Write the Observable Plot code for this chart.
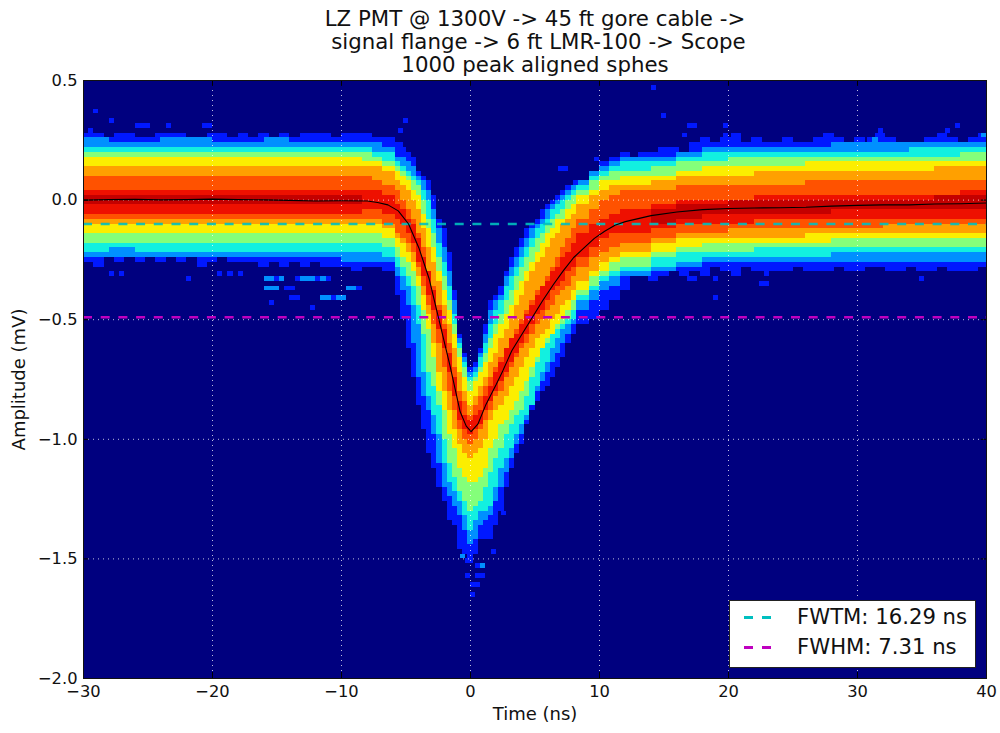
<!DOCTYPE html>
<html><head><meta charset="utf-8">
<script src="https://cdn.jsdelivr.net/npm/d3@7"></script>
<script src="https://cdn.jsdelivr.net/npm/@observablehq/plot@0.6"></script>
<style>
body{margin:0;background:#fff;font-family:"DejaVu Sans",sans-serif;position:relative;width:1000px;height:733px;overflow:hidden}
#legend{position:absolute;left:729px;top:600px;width:245px;height:66px;background:#fff;border:1px solid #222;font-size:21.2px;color:#111}
#legend .row{position:absolute;left:67px;white-space:pre}
#legend i{position:absolute;width:9px;height:3px}
</style></head><body>
<div id="chart"></div>
<div id="legend"></div>
<script>
const titleText = "LZ PMT @ 1300V -> 45 ft gore cable ->\n signal flange -> 6 ft LMR-100 -> Scope\n1000 peak aligned sphes";
const xLabel = "Time (ns)", yLabel = "Amplitude (mV)";
const xTicks = [-30,-20,-10,0,10,20,30,40];
const yTicks = [-2,-1.5,-1,-0.5,0,0.5];
const fwtmLevel = -0.10, fwhmLevel = -0.49;
const legendLabels = ["FWTM: 16.29 ns","FWHM: 7.31 ns"];

// edges of the sampled time columns (ns)
const columnEdges = [-30,-28,-26,-24,-22,-20,-18,-16,-14,-12,-10,
 -8.4,-7.6,-6.8,
 -5.8,-5.4,-5,-4.6,-4.2,-3.8,-3.4,-3,-2.6,-2.2,-1.8,-1.4,-1,-.6,-.2,.2,.6,1,1.4,1.8,2.2,2.6,3,3.4,3.8,4.2,4.6,5,5.4,5.8,6.2,6.6,7,7.4,7.8,
 8.2,9.2,10,10.8,11.6,
 12.4,14,16,18,20,22,24,26,28,30,32,34,36,38,40];

// upper edges of each density band (mV), per column
const topBlue=[.25,.245,.245,.25,.25,.245,.245,.25,.245,.245,.245,
 .265,.26,.25,
 .22,.21,.19,.17,.12,.1,.08,.02,-.08,-.12,-.22,-.38,-.56,-.65,-.71,-.69,-.63,-.53,-.42,-.4,-.36,-.3,-.25,-.21,-.17,-.13,-.1,-.08,-.05,-.03,0,.025,.04,.05,.065,
 .08,.11,.15,.175,.19,
 .17,.185,.205,.215,.22,.225,.225,.225,.23,.23,.23,.23,.235,.235];
const topAzure=[.25,.245,.245,.25,.25,.245,.245,.25,.245,.245,.245,
 .24,.23,.215,
 .185,.17,.15,.13,.1,.07,.03,-.04,-.13,-.2,-.3,-.42,-.58,-.67,-.725,-.7,-.65,-.56,-.47,-.43,-.4,-.33,-.29,-.24,-.2,-.16,-.13,-.1,-.07,-.05,-.02,0,.02,.035,.05,
 .08,.11,.14,.16,.17,
 .17,.185,.205,.215,.22,.225,.225,.225,.23,.23,.23,.23,.235,.235];
const topCyan=[.22,.22,.225,.22,.22,.225,.22,.22,.22,.22,.215,
 .215,.205,.19,
 .16,.145,.125,.105,.08,.04,0,-.09,-.18,-.27,-.36,-.48,-.6,-.69,-.74,-.72,-.67,-.6,-.53,-.47,-.43,-.37,-.33,-.28,-.24,-.2,-.17,-.13,-.1,-.07,-.05,-.02,0,.015,.03,
 .065,.095,.125,.14,.15,
 .15,.165,.18,.19,.195,.2,.2,.2,.205,.205,.205,.21,.21,.21];
const topGreen=[.195,.195,.2,.195,.195,.2,.195,.195,.195,.195,.19,
 .19,.18,.16,
 .135,.12,.1,.08,.05,-.01,-.07,-.15,-.24,-.33,-.42,-.52,-.63,-.71,-.756,-.74,-.7,-.65,-.58,-.52,-.48,-.43,-.38,-.33,-.29,-.25,-.21,-.17,-.14,-.11,-.08,-.06,-.04,-.01,.01,
 .04,.07,.1,.115,.125,
 .125,.14,.155,.165,.17,.175,.175,.18,.18,.18,.185,.185,.185,.19];
const topYellow=[.175,.175,.17,.17,.175,.175,.17,.17,.17,.17,.17,
 .165,.155,.135,
 .11,.09,.07,.045,.01,-.06,-.13,-.21,-.295,-.38,-.47,-.56,-.66,-.74,-.8,-.77,-.73,-.68,-.62,-.57,-.53,-.49,-.44,-.39,-.35,-.31,-.27,-.23,-.19,-.15,-.12,-.09,-.07,-.04,-.02,
 .01,.04,.07,.08,.09,
 .09,.105,.12,.13,.14,.145,.145,.15,.15,.15,.155,.155,.16,.16];
const topOrange=[.145,.145,.145,.145,.145,.145,.145,.145,.145,.145,.145,
 .14,.13,.11,
 .08,.06,.03,0,-.04,-.12,-.2,-.27,-.34,-.44,-.53,-.63,-.72,-.8,-.854,-.83,-.79,-.74,-.69,-.64,-.59,-.54,-.5,-.45,-.4,-.35,-.31,-.27,-.24,-.2,-.17,-.14,-.11,-.08,-.06,
 -.03,.01,.04,.05,.06,
 .06,.075,.09,.1,.105,.11,.115,.115,.12,.12,.12,.125,.13,.13];
const topRedOrange=[.09,.09,.09,.09,.09,.09,.09,.09,.09,.09,.09,
 .09,.085,.06,
 .03,0,-.04,-.09,-.14,-.21,-.295,-.37,-.45,-.52,-.6,-.7,-.8,-.85,-.895,-.87,-.83,-.79,-.75,-.7,-.66,-.62,-.58,-.54,-.5,-.46,-.42,-.39,-.36,-.32,-.28,-.24,-.2,-.17,-.13,
 -.09,-.04,0,.02,.03,
 .03,.04,.05,.055,.06,.065,.065,.07,.07,.07,.07,.075,.08,.08];
const topRed=[.045,.045,.045,.045,.045,.045,.045,.045,.045,.045,.04,
 .035,.03,.01,
 -.02,-.04,-.07,-.11,-.17,-.24,-.31,-.39,-.46,-.55,-.65,-.75,-.85,-.9,-.93,-.91,-.875,-.82,-.78,-.73,-.68,-.63,-.59,-.56,-.52,-.48,-.44,-.4,-.37,-.34,-.31,-.28,-.25,-.22,-.19,
 -.15,-.11,-.08,-.06,-.05,
 -.05,-.03,-.01,0,.005,.01,.015,.015,.02,.02,.02,.02,.025,.03];
const topDark=[.025,.025,.025,.025,.025,.025,.025,.025,.025,.025,.02,
 ...Array(43).fill(null),
 null,-.045,-.025,-.015,-.01,-.01,-.005,-.005,0,0,.005,.005,.01,.01];

// lower edges of each density band (mV), per column
const botDark=[-.03,-.03,-.03,-.03,-.03,-.03,-.03,-.03,-.03,-.03,-.03,
 ...Array(43).fill(null),
 null,-.095,-.075,-.065,-.06,-.06,-.055,-.055,-.05,-.05,-.045,-.045,-.04,-.04];
const botRed=[-.055,-.055,-.055,-.055,-.055,-.055,-.055,-.055,-.055,-.055,-.055,
 -.045,-.05,-.06,
 -.09,-.11,-.14,-.19,-.26,-.32,-.4,-.47,-.54,-.63,-.73,-.83,-.92,-.96,-.99,-.97,-.94,-.88,-.84,-.8,-.77,-.72,-.68,-.64,-.6,-.57,-.53,-.49,-.46,-.42,-.39,-.37,-.34,-.31,-.28,
 -.24,-.2,-.17,-.15,-.14,
 -.14,-.125,-.11,-.1,-.095,-.09,-.09,-.085,-.08,-.08,-.08,-.075,-.07,-.07];
const botRedOrange=[-.08,-.08,-.08,-.08,-.08,-.08,-.08,-.08,-.08,-.08,-.08,
 -.08,-.085,-.1,
 -.14,-.16,-.19,-.23,-.29,-.36,-.44,-.52,-.6,-.7,-.8,-.89,-.97,-1,-1.02,-1,-.97,-.92,-.88,-.83,-.8,-.75,-.71,-.67,-.63,-.6,-.56,-.53,-.5,-.47,-.44,-.41,-.38,-.36,-.33,
 -.29,-.25,-.22,-.2,-.18,
 -.18,-.16,-.14,-.135,-.13,-.125,-.125,-.12,-.115,-.115,-.11,-.11,-.105,-.105];
const botOrange=[-.11,-.11,-.11,-.11,-.11,-.11,-.11,-.11,-.11,-.11,-.11,
 -.11,-.11,-.13,
 -.17,-.19,-.22,-.26,-.33,-.4,-.48,-.6,-.72,-.8,-.88,-.96,-1.03,-1.06,-1.08,-1.07,-1.05,-1,-.93,-.89,-.855,-.82,-.78,-.74,-.7,-.67,-.63,-.59,-.56,-.54,-.51,-.48,-.45,-.42,-.39,
 -.34,-.3,-.26,-.24,-.22,
 -.22,-.19,-.17,-.165,-.16,-.155,-.155,-.15,-.145,-.145,-.14,-.14,-.135,-.135];
const botYellow=[-.15,-.15,-.15,-.15,-.15,-.15,-.145,-.15,-.15,-.15,-.15,
 -.15,-.15,-.17,
 -.21,-.24,-.27,-.31,-.37,-.46,-.55,-.67,-.8,-.88,-.98,-1.05,-1.13,-1.17,-1.19,-1.18,-1.16,-1.11,-1.05,-1,-.95,-.92,-.88,-.84,-.8,-.76,-.71,-.66,-.62,-.59,-.56,-.53,-.5,-.47,-.43,
 -.38,-.33,-.3,-.27,-.25,
 -.25,-.22,-.2,-.19,-.185,-.18,-.18,-.175,-.17,-.17,-.17,-.165,-.165,-.16];
const botGreen=[-.185,-.185,-.18,-.185,-.185,-.19,-.185,-.185,-.185,-.185,-.185,
 -.19,-.19,-.21,
 -.25,-.28,-.32,-.37,-.44,-.56,-.72,-.78,-.854,-1,-1.1,-1.16,-1.22,-1.27,-1.3,-1.29,-1.27,-1.21,-1.15,-1.09,-1.04,-.99,-.94,-.91,-.88,-.82,-.75,-.69,-.63,-.6,-.56,-.54,-.52,-.5,-.47,
 -.41,-.36,-.33,-.3,-.28,
 -.28,-.25,-.23,-.22,-.215,-.21,-.21,-.205,-.205,-.2,-.2,-.2,-.195,-.195];
const botCyan=[-.215,-.21,-.215,-.22,-.215,-.215,-.215,-.22,-.215,-.215,-.22,
 -.225,-.225,-.235,
 -.28,-.32,-.37,-.44,-.53,-.72,-.82,-.9,-.98,-1.1,-1.18,-1.23,-1.27,-1.33,-1.38,-1.35,-1.31,-1.3,-1.28,-1.2,-1.13,-1.09,-1.05,-.99,-.94,-.9,-.854,-.78,-.72,-.68,-.63,-.59,-.55,-.53,-.5,
 -.43,-.38,-.34,-.32,-.3,
 -.3,-.275,-.255,-.245,-.24,-.24,-.235,-.235,-.23,-.23,-.23,-.225,-.225,-.225];
const botAzure=[-.245,-.24,-.245,-.25,-.245,-.245,-.245,-.245,-.245,-.25,-.255,
 -.26,-.26,-.26,
 -.32,-.38,-.45,-.6,-.75,-.82,-.88,-.98,-1.1,-1.2,-1.25,-1.29,-1.33,-1.39,-1.45,-1.42,-1.37,-1.35,-1.32,-1.26,-1.2,-1.14,-1.08,-1.03,-.98,-.92,-.86,-.8,-.76,-.72,-.68,-.65,-.61,-.57,-.53,
 -.47,-.42,-.38,-.36,-.33,
 -.33,-.3,-.28,-.27,-.265,-.265,-.265,-.26,-.26,-.26,-.255,-.255,-.255,-.255];
const botBlue=[-.245,-.24,-.245,-.25,-.245,-.245,-.245,-.245,-.245,-.25,-.255,
 -.29,-.29,-.29,
 -.4,-.5,-.62,-.75,-.854,-.96,-1.06,-1.13,-1.2,-1.26,-1.34,-1.36,-1.47,-1.48,-1.52,-1.48,-1.43,-1.42,-1.42,-1.36,-1.3,-1.2,-1.13,-1.06,-1.02,-.94,-.88,-.84,-.81,-.78,-.74,-.7,-.66,-.61,-.56,
 -.52,-.5,-.46,-.42,-.39,
 -.33,-.3,-.28,-.27,-.265,-.265,-.265,-.26,-.26,-.26,-.255,-.255,-.255,-.255];

// ragged outer edge of the blue band along the baselines, read in 0.8 ns steps
const fringeLeftStart=-30, fringeRightStart=13, fringeStep=0.8;
const fringeLeftTop=[.27,.27,.26,.27,.27,.26,.26,.285,.285,.27,.26,.26,.28,.27,.26,.27,.26,.27,.26,.27,.26,.27,.28,.27,.26,.27,.28,.27,.26,.25,.24];
const fringeLeftBot=[-.27,-.28,-.25,-.26,-.25,-.27,-.25,-.26,-.25,-.27,-.25,-.28,-.26,-.25,-.26,-.27,-.26,-.29,-.26,-.28,-.27,-.29,-.27,-.28,-.29,-.28,-.3,-.28,-.29,-.3,-.3];
const fringeRightTop=[.2,.2,.21,.22,.2,.23,.25,.23,.25,.27,.24,.25,.24,.24,.25,.23,.24,.25,.27,.25,.24,.25,.24,.27,.26,.24,.24,.24,.26,.27,.25,.24,.25,.27];
const fringeRightBot=[-.33,-.34,-.32,-.3,-.32,-.31,-.33,-.29,-.3,-.32,-.29,-.31,-.3,-.3,-.31,-.29,-.3,-.3,-.31,-.29,-.3,-.3,-.29,-.29,-.3,-.31,-.29,-.3,-.31,-.29,-.3,-.3,-.31,-.29];

// isolated outlier cells: time, amplitude, band index
const strayT=[-29.07,-27.9,-25.7,-25.3,-24.9,-20.8,-20.4,-29.5,-23.5,-5.2,-5.6,
 -27.9,-26.9,-22,-19.5,-18.6,-17.8,-16,-15.6,-15.2,-14.8,-13.6,-13.2,-12.8,-12.4,-12,-11.6,-11.2,
 -15.7,-15.3,-14.9,-14.4,-13.8,-11.6,-11.2,-10.8,-10.4,-10,-9.5,-9,-8.5,-15.5,-14,-13.4,-12.3,
 0,.3,.7,0,-.35,.4,1.2,.45,.85,-.8,-.2,1.6,2.45,
 14.9,17,17.4,19.6,16.7,19.8,31.8,37,37.6,27.9,28.3,31,31.4,35.2,35.6,39.8,
 17,17.4,19,22.5,22.9,19,35,22.8,23.2,7,7.4,8.1,9.9,14];
const strayA=[.375,.336,.315,.315,.315,.315,.315,.29,.3,.336,.295,
 -.307,-.307,-.323,-.307,-.307,-.307,-.323,-.323,-.323,-.323,-.323,-.323,-.323,-.323,-.323,-.323,-.323,
 -.365,-.365,-.365,-.365,-.365,-.407,-.407,-.407,-.407,-.407,-.365,-.365,-.365,-.43,-.405,-.405,-.45,
 -1.62,-1.62,-1.62,-1.655,-1.578,-1.578,-1.578,-1.536,-1.536,-1.5,-1.52,-1.48,-1.31,
 .358,.316,.316,.316,.279,.279,.295,.295,.316,.25,.25,.25,.25,.25,.25,.27,
 -.33,-.33,-.33,-.35,-.35,-.41,-.33,-.31,-.31,.12,.12,.06,.17,.46];
const strayBand=[0,0,0,0,0,0,0,0,0,0,0,
 0,0,0,0,0,0,1,1,0,1,0,1,1,1,0,1,0,
 1,1,1,0,0,1,1,0,1,1,1,1,0,0,0,0,0,
 1,0,0,0,0,0,0,0,1,1,0,0,0,
 0,0,0,0,0,0,0,0,0,0,0,0,1,0,0,1,
 0,0,0,0,0,0,0,0,0,0,0,0,0,0];

// average waveform
const meanT=[-30,-28,-26,-24,-22,-20,-18,-16,-14,-12,-10,-8,-7.2,-6.4,-5.6,-4.8,-4,-3.2,-2.4,-1.6,-.8,-.33,.05,.57,1.2,2,2.5,3.2,4,4.8,5.6,6.4,7.2,8,8.8,9.6,10.4,11.2,12,14,16,18,20,22,24,26,28,30,32,34,36,38,40];
const meanA=[0,.002,.003,.001,.002,.004,.002,.001,-.001,-.004,-.003,-.004,-.01,-.02,-.045,-.1,-.2,-.33,-.51,-.69,-.885,-.945,-.968,-.937,-.854,-.77,-.714,-.63,-.56,-.49,-.42,-.355,-.295,-.24,-.2,-.16,-.13,-.105,-.09,-.065,-.05,-.04,-.035,-.033,-.032,-.03,-.025,-.022,-.02,-.02,-.016,-.015,-.012];

const bandNames=["b0","b1","b2","b3","b4","b5","b6","b7","b8"];
const bandColors=["#0018ff","#0090ff","#12f0e0","#84ff7a","#fbee00","#ffa000","#ff5200","#ee1000","#c40000"];
const tops=[topBlue,topAzure,topCyan,topGreen,topYellow,topOrange,topRedOrange,topRed,topDark];
const bots=[botBlue,botAzure,botCyan,botGreen,botYellow,botOrange,botRedOrange,botRed,botDark];
const binH=0.02, binW=0.4;
const snap=v=>Math.round(v/binH)*binH;

const cells=[];
function addFringe(start,topVals,botVals){
  topVals.forEach((v,i)=>{const x=start+i*fringeStep;
    cells.push({x1:x,x2:Math.min(x+fringeStep,40),y1:snap(botVals[i]),y2:snap(v),band:"b0"});});
}
addFringe(fringeLeftStart,fringeLeftTop,fringeLeftBot);
addFringe(fringeRightStart,fringeRightTop,fringeRightBot);
bandNames.forEach((name,k)=>{
  for(let c=0;c<columnEdges.length-1;c++){
    if(tops[k][c]==null||bots[k][c]==null) continue;
    cells.push({x1:columnEdges[c],x2:columnEdges[c+1],y1:snap(bots[k][c]),y2:snap(tops[k][c]),band:name});
  }
});
const strays=strayT.map((t,i)=>{
  const x=Math.floor(t/binW)*binW,y=Math.floor(strayA[i]/binH)*binH;
  return {x1:x,x2:x+binW,y1:y,y2:y+binH,band:bandNames[strayBand[i]]};
});
const mean=meanT.map((t,i)=>({t,a:meanA[i]}));

const chart=Plot.plot({
  width:1000,height:733,marginLeft:83,marginRight:14,marginTop:80,marginBottom:55,
  style:{fontFamily:"DejaVu Sans, sans-serif",fontSize:"16.3px",color:"#111",background:"#fff",overflow:"visible"},
  x:{domain:[-30,40],ticks:xTicks,tickFormat:d3.format("d")},
  y:{domain:[-2,0.5],ticks:yTicks,tickFormat:d3.format(".1f")},
  color:{type:"ordinal",domain:bandNames,range:bandColors},
  marks:[
    Plot.frame({fill:"#00007f",stroke:"none"}),
    Plot.rect(cells,{x1:"x1",x2:"x2",y1:"y1",y2:"y2",fill:"band",shapeRendering:"crispEdges",inset:0}),
    Plot.rect(strays,{x1:"x1",x2:"x2",y1:"y1",y2:"y2",fill:"band",shapeRendering:"crispEdges",inset:0}),
    Plot.ruleX(xTicks,{stroke:"#fff",strokeOpacity:.75,strokeDasharray:"1,4"}),
    Plot.ruleY(yTicks,{stroke:"#fff",strokeOpacity:.75,strokeDasharray:"1,4"}),
    Plot.ruleY([fwtmLevel],{stroke:"#00bfbf",strokeWidth:2.5,strokeDasharray:"9,8.7",strokeOpacity:.9}),
    Plot.ruleY([fwhmLevel],{stroke:"#bf00bf",strokeWidth:2.5,strokeDasharray:"9,8.7"}),
    Plot.line(mean,{x:"t",y:"a",stroke:"#000",strokeWidth:1.1}),
    Plot.ruleX(xTicks,{y1:-2,y2:-1.975,stroke:"#000"}),
    Plot.ruleX(xTicks,{y1:0.475,y2:0.5,stroke:"#000"}),
    Plot.ruleY(yTicks,{x1:-30,x2:-29.6,stroke:"#000"}),
    Plot.ruleY(yTicks,{x1:39.6,x2:40,stroke:"#000"}),
    Plot.frame({stroke:"#111",strokeWidth:1}),
    Plot.axisX({anchor:"bottom",ticks:xTicks,tickSize:0,tickPadding:7,tickFormat:d3.format("d"),label:null}),
    Plot.axisY({anchor:"left",ticks:yTicks,tickSize:0,tickPadding:6,tickFormat:d3.format(".1f"),label:null}),
    Plot.text([xLabel],{frameAnchor:"bottom",dy:41,fontSize:18}),
    Plot.text([yLabel],{frameAnchor:"left",dx:-64,rotate:-90,fontSize:18,textAnchor:"middle"}),
    Plot.text([titleText],{frameAnchor:"top",dy:-71,fontSize:21.3,lineHeight:1.08,lineAnchor:"top",fill:"#111"})
  ]
});
document.getElementById("chart").append(chart);

// legend
const lg=document.getElementById("legend");
[["#00bfbf",legendLabels[0],3],["#bf00bf",legendLabels[1],33]].forEach(([c,t,top])=>{
  const r=document.createElement("div");r.className="row";r.style.top=top+"px";r.textContent=t;lg.append(r);
  [0,18].forEach(o=>{const d=document.createElement("i");d.style.background=c;d.style.left=(14+o)+"px";d.style.top=(top+12)+"px";lg.append(d);});
});
</script>
</body></html>
